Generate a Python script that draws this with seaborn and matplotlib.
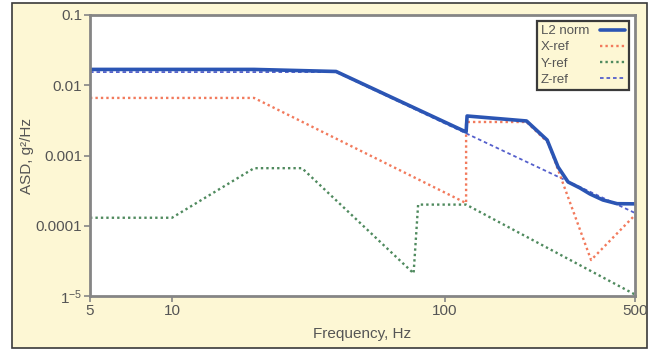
import matplotlib
matplotlib.use("Agg")
import matplotlib.pyplot as plt
import numpy as np
import pandas as pd
import seaborn as sns
from matplotlib.patches import Rectangle
from matplotlib.ticker import FixedLocator, FixedFormatter, NullLocator

# ---- data: acceleration spectral density profiles ----
freq_l2 = [5, 20, 40, 120, 121, 200, 238, 261, 284, 314, 342, 381, 430, 500]
asd_l2 = [0.0168, 0.0168, 0.0157, 0.00216, 0.00365, 0.0031, 0.00166, 0.000686,
          0.00042, 0.000345, 0.000283, 0.000233, 0.000206, 0.000205]

freq_x = [5, 20, 120, 120, 200, 240, 345, 500]
asd_x = [0.0066, 0.0066, 0.00021, 0.0030, 0.0030, 0.00152, 0.0000325, 0.000142]

freq_y = [5, 10, 20, 30, 77, 80, 120, 500]
asd_y = [0.00013, 0.00013, 0.00066, 0.00066, 0.000021, 0.0002, 0.0002, 0.0000105]

freq_z = [5, 40, 500]
asd_z = [0.0154, 0.0154, 0.000152]

series_names = ["L2 norm", "X-ref", "Y-ref", "Z-ref"]

x_ticks = [5, 10, 100, 500]
x_ticklabels = ["5", "10", "100", "500"]
y_ticks = [1e-5, 1e-4, 1e-3, 1e-2, 1e-1]
y_ticklabels = [r"$\mathregular{1^{-5}}$", "0.0001", "0.001", "0.01", "0.1"]

frames = []
for name, f, a in [("L2 norm", freq_l2, asd_l2), ("X-ref", freq_x, asd_x),
                   ("Y-ref", freq_y, asd_y), ("Z-ref", freq_z, asd_z)]:
    frames.append(pd.DataFrame({"freq": f, "asd": a, "series": name}))
df = pd.concat(frames, ignore_index=True)

# ---- styling ----
sns.set_theme(style="white")
plt.rcParams["font.family"] = ["Liberation Sans", "DejaVu Sans"]

PANEL = "#fdf7d4"
SPINE = "#858585"
TEXT = "#555555"

styles = {
    "L2 norm": dict(color="#2b55b4", linewidth=2.6, linestyle="-"),
    "X-ref": dict(color="#f27a5c", linewidth=1.7, linestyle=(0, (1, 1.3))),
    "Y-ref": dict(color="#4f8a5e", linewidth=1.7, linestyle=(0, (1, 1.3))),
    "Z-ref": dict(color="#5560cc", linewidth=1.3, linestyle=(0, (2, 1.6))),
}

fig = plt.figure(figsize=(6.58, 3.52), dpi=100)
fig.patch.set_facecolor("white")
fig.add_artist(Rectangle((12 / 658, 4 / 352), 635 / 658, 345 / 352,
                         transform=fig.transFigure, facecolor=PANEL,
                         edgecolor="#3a3a3a", linewidth=1.2, zorder=0))

ax = fig.add_axes([90 / 658, 56 / 352, 545 / 658, 281 / 352])
ax.set_facecolor("white")
ax.set_xscale("log")
ax.set_yscale("log")

# reference curves first, the norm on top
handles = {}
for name in ["Z-ref", "Y-ref", "X-ref", "L2 norm"]:
    sub = df[df["series"] == name]
    sns.lineplot(data=sub, x="freq", y="asd", estimator=None, sort=False,
                 ax=ax, label=name, **styles[name])
    handles[name] = ax.get_lines()[-1]

ax.set_xlim(5, 500)
ax.set_ylim(1e-5, 0.1)

ax.xaxis.set_major_locator(FixedLocator(x_ticks))
ax.xaxis.set_major_formatter(FixedFormatter(x_ticklabels))
ax.xaxis.set_minor_locator(NullLocator())
ax.yaxis.set_major_locator(FixedLocator(y_ticks))
ax.yaxis.set_major_formatter(FixedFormatter(y_ticklabels))
ax.yaxis.set_minor_locator(NullLocator())

ax.tick_params(axis="both", which="major", direction="out", length=4,
               width=1.2, color=SPINE, labelcolor=TEXT, labelsize=11, pad=1.5)
ax.tick_params(axis="both", bottom=True, left=True)

for sp in ax.spines.values():
    sp.set_visible(True)
    sp.set_color(SPINE)
    sp.set_linewidth(2)

ax.set_xlabel("Frequency, Hz", fontsize=11, color=TEXT)
ax.set_ylabel("ASD, g²/Hz", fontsize=11, color=TEXT)
ax.xaxis.set_label_coords(0.5, -0.11)
ax.yaxis.set_label_coords(-0.102, 0.5)

leg = ax.legend([handles[n] for n in series_names], series_names,
                loc="upper right", markerfirst=False, frameon=True,
                fancybox=False, facecolor=PANEL, edgecolor="#3a3a3a",
                framealpha=1, fontsize=9.5, handlelength=1.9,
                handletextpad=0.8, labelspacing=0.3, borderpad=0.3,
                borderaxespad=0.45)
leg.get_frame().set_linewidth(1.6)
for t in leg.get_texts():
    t.set_color(TEXT)

# labels flush left, handles lined up in a right-hand column
fig.canvas.draw()
renderer = fig.canvas.get_renderer()
for col in leg._legend_handle_box.get_children():
    col.align = "left"
    rows = col.get_children()
    w = max(row.get_bbox(renderer).width for row in rows)
    for row in rows:
        row.mode = "expand"
        row.width = w

fig.savefig("out.png", dpi=100, facecolor=fig.get_facecolor())
